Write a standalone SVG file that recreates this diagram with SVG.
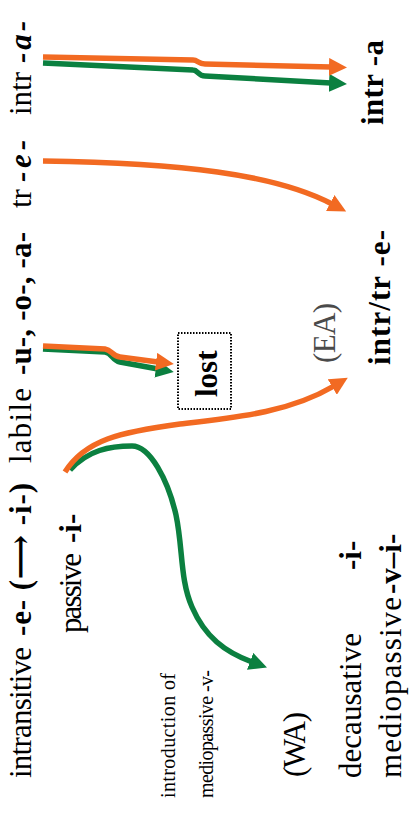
<svg xmlns="http://www.w3.org/2000/svg" width="411" height="818" viewBox="0 0 411 818">
<style>
  text { font-family: "Liberation Serif", "DejaVu Serif", serif; fill: #000; }
  .lbl { font-size: 31px; }
  .small { font-size: 20px; }
  .b { font-weight: bold; }
  .bi { font-weight: bold; font-style: italic; }
  .gray { fill: #4a4a4a; }
  .or { fill: none; stroke: #F26A22; stroke-width: 5.5; }
  .gr { fill: none; stroke: #0B8040; stroke-width: 5.5; }
</style>
<defs>
  <marker id="ahO" markerUnits="userSpaceOnUse" markerWidth="20" markerHeight="18" refX="2" refY="9" orient="auto">
    <path d="M0,0 L18,9 L0,18 z" fill="#F26A22"/>
  </marker>
  <marker id="ahG" markerUnits="userSpaceOnUse" markerWidth="20" markerHeight="18" refX="2" refY="9" orient="auto">
    <path d="M0,0 L18,9 L0,18 z" fill="#0B8040"/>
  </marker>
</defs>
<g id="connectors">
  <path class="gr" d="M43,63 L193,70 C198,70 198,76 205,76 L331,83" marker-end="url(#ahG)"/>
  <path class="or" d="M43,57 L193,60 C198,60 198,64 205,64 L331,67" marker-end="url(#ahO)"/>
  <path class="or" d="M43,161 C180,163 275,174 332,204" marker-end="url(#ahO)"/>
  <path class="gr" d="M43,349 L105,352 C112,353 112,360 120,362 L158,369" marker-end="url(#ahG)"/>
  <path class="or" d="M43,346 L105,349 C112,350 112,356 120,357 L158,362" marker-end="url(#ahO)"/>
  <path class="gr" d="M70,470 C88,450 110,446 132,446 C150,446 168,480 176,515 C183,548 180,580 192,607 C205,637 225,652 252,662" marker-end="url(#ahG)"/>
  <path class="or" d="M65,472 C85,440 120,432 180,424 C240,417 290,412 334,386" marker-end="url(#ahO)"/>
</g>
<g id="source-labels">
  <text class="lbl" transform="translate(31,778) rotate(-90)" textLength="131" lengthAdjust="spacing">intransitive</text>
  <text class="lbl b" transform="translate(31,636) rotate(-90)" textLength="153" lengthAdjust="spacing">-e- (⟶ -i-)</text>
  <text class="lbl" transform="translate(31,463) rotate(-90)" textLength="75" lengthAdjust="spacing">labile</text>
  <text class="lbl b" transform="translate(31,375) rotate(-90)" textLength="143" lengthAdjust="spacing">-u-, -o-, -a-</text>
  <text class="lbl" transform="translate(31,208) rotate(-90)">tr</text>
  <text class="lbl bi" transform="translate(31,182) rotate(-90)" textLength="42" lengthAdjust="spacing">-e-</text>
  <text class="lbl" transform="translate(31,115) rotate(-90)">intr</text>
  <text class="lbl bi" transform="translate(31,63) rotate(-90)" textLength="42" lengthAdjust="spacing">-a-</text>
</g>
<g id="passive">
  <text class="lbl" transform="translate(81,633) rotate(-90)" textLength="80" lengthAdjust="spacing">passive</text>
  <text class="lbl b" transform="translate(81,543) rotate(-90)">-i-</text>
</g>
<g id="introduction">
  <text class="small" transform="translate(175,798) rotate(-90)" textLength="125" lengthAdjust="spacing">introduction of</text>
  <text class="small" transform="translate(213,798) rotate(-90)" textLength="128" lengthAdjust="spacing">mediopassive -v-</text>
</g>
<g id="lost">
  <rect x="178" y="333" width="53" height="76" fill="#fff" stroke="#000" stroke-width="2" stroke-dasharray="1.5 1.5"/>
  <text class="lbl b" transform="translate(217,397) rotate(-90)">lost</text>
</g>
<g id="WA">
  <text class="lbl" transform="translate(305,777) rotate(-90)" textLength="65" lengthAdjust="spacing">(WA)</text>
</g>
<g id="EA">
  <text class="lbl gray" transform="translate(335,363) rotate(-90)" textLength="60" lengthAdjust="spacing">(EA)</text>
</g>
<g id="western-results">
  <text class="lbl" transform="translate(361,778) rotate(-90)" textLength="145" lengthAdjust="spacing">decausative</text>
  <text class="lbl b" transform="translate(361,570) rotate(-90)">-i-</text>
  <text class="lbl" transform="translate(401,778) rotate(-90)" textLength="181" lengthAdjust="spacing">mediopassive</text>
  <text class="lbl b" transform="translate(401,594) rotate(-90)">-v–i-</text>
</g>
<g id="intr-a">
  <text class="lbl b" transform="translate(383,125) rotate(-90)" textLength="85" lengthAdjust="spacing">intr -a</text>
</g>
<g id="intr-tr-e">
  <text class="lbl b" transform="translate(390,365) rotate(-90)" textLength="135" lengthAdjust="spacing">intr/tr -e-</text>
</g>
</svg>
